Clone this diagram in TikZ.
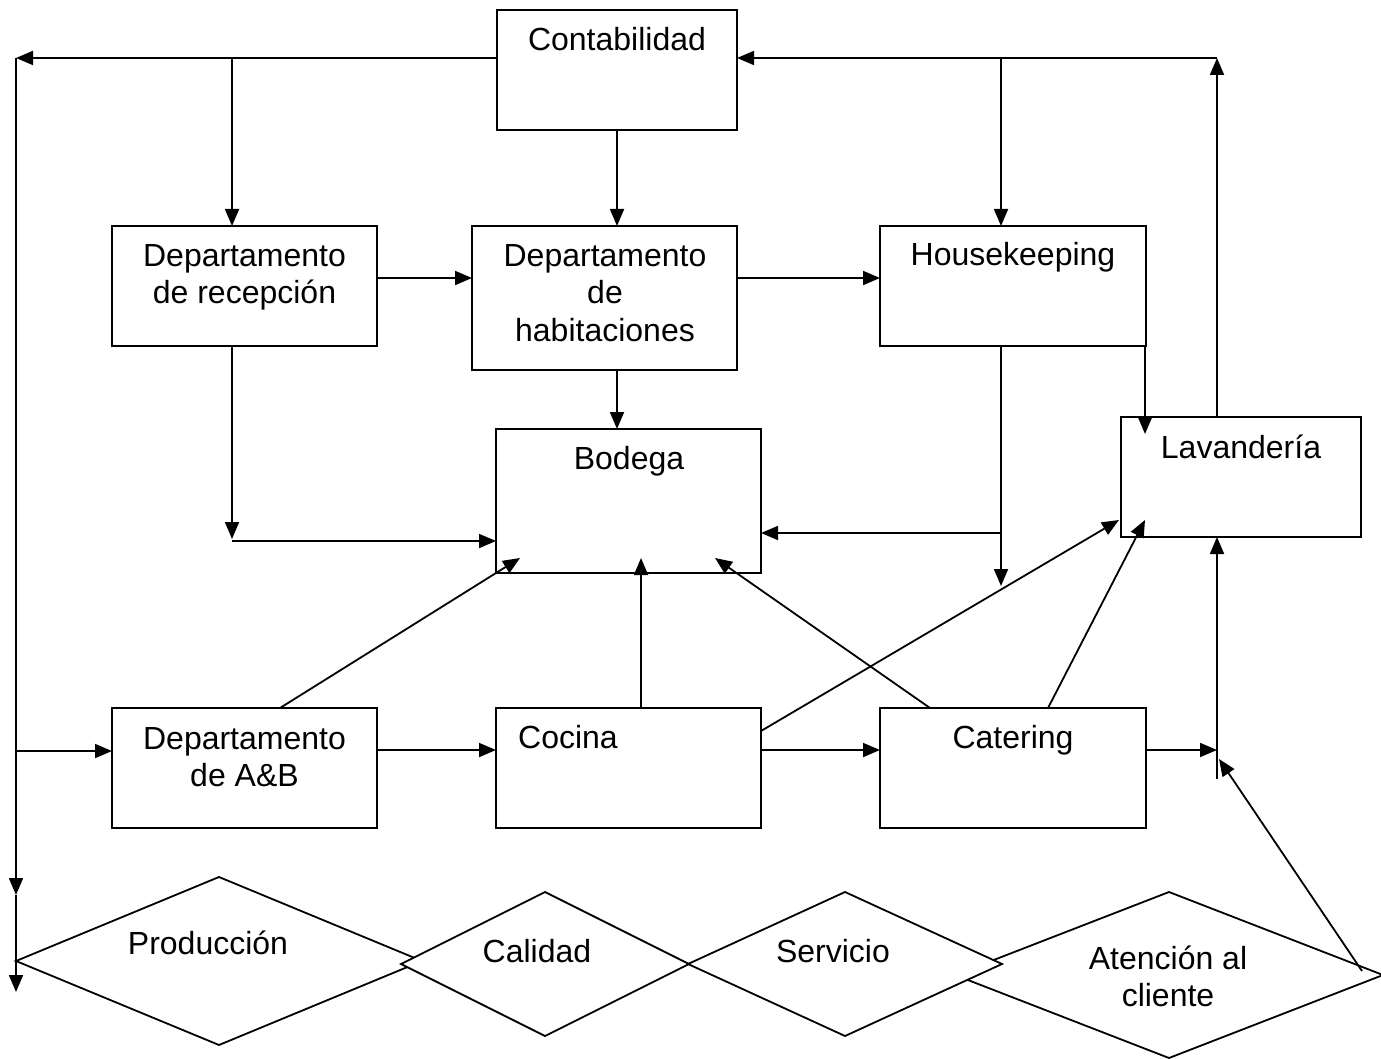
\documentclass[tikz,border=0pt]{standalone}
\usepackage{fontspec}
\setmainfont{Liberation Sans}
\usetikzlibrary{arrows.meta,shapes.geometric}
\begin{document}
\begin{tikzpicture}[x=1pt,y=-1pt,
  box/.style={draw,line width=1.8pt,inner sep=0pt,outer sep=0pt,fill=white},
  dia/.style={draw,shape=diamond,line width=1.8pt,inner sep=0pt,outer sep=0pt,fill=white},
  txt/.style={inner sep=0pt,anchor=base,align=center,font=\fontsize{32}{37}\selectfont},
  arr/.style={line width=1.8pt,-{Triangle[length=17pt,width=14pt]}}]
\useasboundingbox[fill=white] (0,0) rectangle (1381,1059);

% boxes
\node[box,minimum width=240pt,minimum height=120pt] (cont) at (617,70) {};
\node[box,minimum width=265pt,minimum height=120pt] (recep) at (244.5,286) {};
\node[box,minimum width=265pt,minimum height=144pt] (habit) at (604.5,298) {};
\node[box,minimum width=266pt,minimum height=120pt] (house) at (1013,286) {};
\node[box,minimum width=265pt,minimum height=144pt] (bod) at (628.5,501) {};
\node[box,minimum width=240pt,minimum height=120pt] (lav) at (1241,477) {};
\node[box,minimum width=265pt,minimum height=120pt] (ab) at (244.5,768) {};
\node[box,minimum width=265pt,minimum height=120pt] (coc) at (628.5,768) {};
\node[box,minimum width=266pt,minimum height=120pt] (cat) at (1013,768) {};

% diamonds
\node[dia,minimum width=406pt,minimum height=168pt] (prod) at (219,961) {};
\node[dia,minimum width=288pt,minimum height=144pt] (cal) at (545,964) {};
\node[dia,minimum width=428pt,minimum height=166pt] (aten) at (1169,975) {};
\node[dia,minimum width=314pt,minimum height=144pt] (serv) at (845,964) {};

% labels (multi-line labels sit on the baseline of their last line)
\node[txt] (contT) at (617,51) {Contabilidad};
\node[txt] (recepT) at (244.5,304) {Departamento\\de recepción};
\node[txt] (habitT) at (605,341) {Departamento\\de\\habitaciones};
\node[txt] (houseT) at (1013,266) {Housekeeping};
\node[txt] (bodT) at (629,469) {Bodega};
\node[txt] (lavT) at (1241,458) {Lavandería};
\node[txt] (abT) at (244.5,786) {Departamento\\de A\&B};
\node[txt,anchor=base west] (cocT) at (518,748) {Cocina};
\node[txt] (catT) at (1013,748) {Catering};
\node[txt] (prodT) at (208,954) {Producción};
\node[txt] (calT) at (537,962) {Calidad};
\node[txt] (servT) at (833,962) {Servicio};
\node[txt] (atenT) at (1168,1006) {Atención al\\cliente};

% junction points
\coordinate (tl) at (16,58);
\coordinate (tr) at (1217,58);
\coordinate (r1) at (232,58);
\coordinate (h1) at (1001,58);
\coordinate (lmid) at (16,895);
\coordinate (lend) at (16,992);
\coordinate (lab) at (16,751);
\coordinate (rc) at (232,539);
\coordinate (rc2) at (232,541);
\coordinate (hk) at (1001,586);
\coordinate (hk2) at (1001,533);
\coordinate (hl) at (1145,434);
\coordinate (cr) at (1217,750);
\coordinate (cu) at (1217,779);
\coordinate (bA) at (520,558);
\coordinate (bC) at (641,558);
\coordinate (bK) at (715,558);
\coordinate (lC) at (1119,520);
\coordinate (lK) at (1145,520);
\coordinate (aT) at (1219,759);
\coordinate (aS) at (1362,971);

% connectors from Contabilidad
\draw[arr] (cont.west |- tl) -- (tl);
\draw[arr] (r1) -- (r1 |- recep.north);
\draw[arr] (cont.south) -- (cont.south |- habit.north);
\draw[arr] (tr) -- (cont.east |- tr);
\draw[arr] (h1) -- (h1 |- house.north);
\draw[arr] (tr |- lav.north) -- (tr);

% left trunk
\draw[arr] (tl) -- (lmid);
\draw[arr] (lmid) -- (lend);
\draw[arr] (lab) -- (lab -| ab.west);

% middle row
\draw[arr] (recep.east |- 0,278) -- (habit.west |- 0,278);
\draw[arr] (habit.east |- 0,278) -- (house.west |- 0,278);
\draw[arr] (habit.south -| cont.south) -- (bod.north -| cont.south);
\draw[arr] (rc |- recep.south) -- (rc);
\draw[arr] (rc2) -- (rc2 -| bod.west);
\draw[arr] (hk |- house.south) -- (hk);
\draw[arr] (hk2) -- (hk2 -| bod.east);
\draw[arr] (hl |- house.south) -- (hl);

% bottom row
\draw[arr] (ab.east |- 0,750) -- (coc.west |- 0,750);
\draw[arr] (coc.east |- 0,750) -- (cat.west |- 0,750);
\draw[arr] (cat.east |- cr) -- (cr);
\draw[arr] (cu) -- (cu |- lav.south);
\draw[arr] (ab.north -| 280,0) -- (bA);
\draw[arr] (coc.north -| bC) -- (bC);
\draw[arr] (cat.north -| 930,0) -- (bK);
\draw[arr] (coc.east |- 0,731) -- (lC);
\draw[arr] (cat.north -| 1048,0) -- (lK);
\draw[arr] (aS) -- (aT);
\end{tikzpicture}
\end{document}
